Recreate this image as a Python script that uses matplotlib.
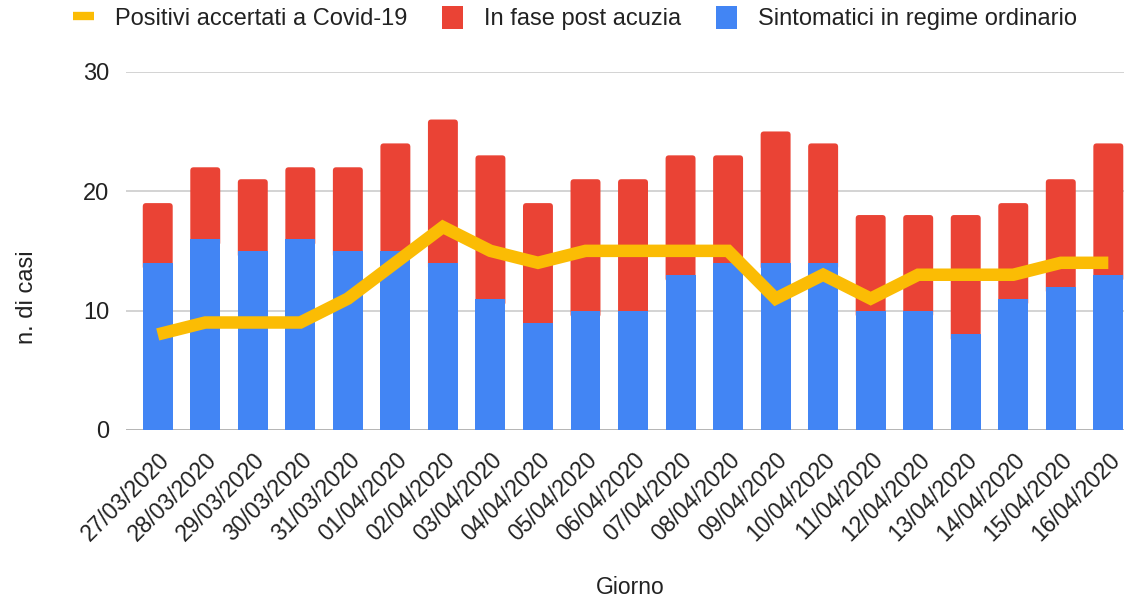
import matplotlib.pyplot as plt
from matplotlib.lines import Line2D
from matplotlib.patches import Patch, FancyBboxPatch

plt.rcParams['font.family'] = ['Liberation Sans', 'DejaVu Sans']

giorni = ['27/03/2020', '28/03/2020', '29/03/2020', '30/03/2020', '31/03/2020',
          '01/04/2020', '02/04/2020', '03/04/2020', '04/04/2020', '05/04/2020',
          '06/04/2020', '07/04/2020', '08/04/2020', '09/04/2020', '10/04/2020',
          '11/04/2020', '12/04/2020', '13/04/2020', '14/04/2020', '15/04/2020',
          '16/04/2020']
sintomatici = [14, 16, 15, 16, 15, 15, 14, 11, 9, 10, 10, 13, 14, 14, 14, 10, 10, 8, 11, 12, 13]
post_acuzia = [5, 6, 6, 6, 7, 9, 12, 12, 10, 11, 11, 10, 9, 11, 10, 8, 8, 10, 8, 9, 11]
positivi = [8, 9, 9, 9, 11, 14, 17, 15, 14, 15, 15, 15, 15, 11, 13, 11, 13, 13, 13, 14, 14]

BLU = '#4285F4'
ROSSO = '#EA4335'
GIALLO = '#FBBC04'
TESTO = '#222222'

fig = plt.figure(figsize=(11.24, 5.98), dpi=100)
ax = fig.add_axes([0.112, 0.281, 0.888, 0.599])

x = list(range(len(giorni)))
w = 0.63
# red part as a rounded box, starting a bit below the blue top so blue hides its lower corners
for xi, s, p in zip(x, sintomatici, post_acuzia):
    box = FancyBboxPatch((xi - w / 2, s - 0.6), w, p + 0.6,
                         boxstyle='round,pad=0,rounding_size=0.07',
                         mutation_aspect=4.0, facecolor=ROSSO,
                         edgecolor='none', zorder=2)
    ax.add_patch(box)
ax.bar(x, sintomatici, width=w, color=BLU, zorder=2.5)
ax.plot(x, positivi, color=GIALLO, linewidth=9, solid_capstyle='butt',
        solid_joinstyle='miter', zorder=3)

ax.set_ylim(0, 30)
ax.set_xlim(-0.67, 20.33)
ax.set_yticks([0, 10, 20, 30])
ax.grid(axis='y', color='#cccccc', linewidth=1.2, zorder=0)
ax.axhline(0, color='#333333', linewidth=2, zorder=1)
for s in ax.spines.values():
    s.set_visible(False)
ax.tick_params(length=0, labelsize=17, colors=TESTO)
ax.tick_params(axis='y', pad=12)
ax.set_xticks(x)
ax.set_xticklabels(giorni, rotation=45, ha='right', rotation_mode='anchor',
                   fontsize=16.5)
ax.tick_params(axis='x', pad=13)

fig.text(0.024, 1 - 297 / 598, 'n. di casi', rotation=90, fontsize=17,
         ha='center', va='center', color=TESTO)
fig.text(630 / 1124, 1 - 587 / 598, 'Giorno', fontsize=16.5,
         ha='center', va='center', color=TESTO)

handles = [Line2D([0], [0], color=GIALLO, linewidth=6, solid_capstyle='butt'),
           Patch(facecolor=ROSSO), Patch(facecolor=BLU)]
labels = ['Positivi accertati a Covid-19', 'In fase post acuzia',
          'Sintomatici in regime ordinario']
fig.legend(handles, labels, loc='center', bbox_to_anchor=(575 / 1124, 1 - 18 / 598),
           ncol=3, frameon=False, fontsize=17, handlelength=0.9,
           handleheight=1.15, handletextpad=0.9, columnspacing=1.45,
           labelcolor=TESTO)

fig.savefig('out.png', dpi=100)
